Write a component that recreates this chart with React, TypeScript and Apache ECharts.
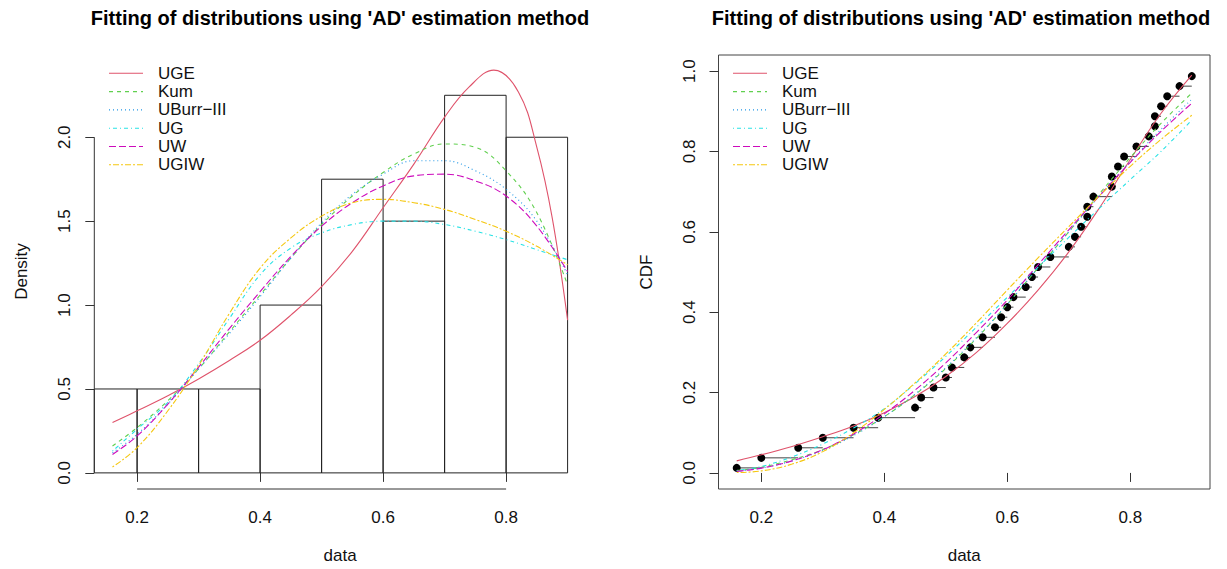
import React, { useEffect, useRef } from "react";
import * as echarts from "echarts";

// ---------- data ----------
const TITLE = "Fitting of distributions using 'AD' estimation method";
const NAMES = ["UGE", "Kum", "UBurr\u2212III", "UG", "UW", "UGIW"];

const X_TICKS = [0.2, 0.4, 0.6, 0.8];
const DENS_TICKS = [0, 0.5, 1.0, 1.5, 2.0];
const CDF_TICKS = [0, 0.2, 0.4, 0.6, 0.8, 1.0];

// histogram (density scale)
const BREAKS = [0.1, 0.2, 0.3, 0.4, 0.5, 0.6, 0.7, 0.8, 0.9];
const HIST_DENSITY = [0.5, 0.5, 0.5, 1.0, 1.75, 1.5, 2.25, 2.0];

// x grid for the fitted curves
const DX = [0.16, 0.2, 0.25, 0.3, 0.35, 0.4, 0.45, 0.5, 0.55, 0.6, 0.65, 0.7, 0.75, 0.8, 0.85, 0.9];
const UGE_DX = [0.16, 0.2, 0.25, 0.3, 0.35, 0.4, 0.45, 0.5, 0.55, 0.6, 0.65, 0.7, 0.74, 0.78, 0.82, 0.85, 0.875, 0.9];

// fitted densities
const UGE_DENS = [0.30, 0.37, 0.46, 0.56, 0.67, 0.79, 0.94, 1.11, 1.32, 1.58, 1.84, 2.12, 2.30, 2.40, 2.27, 1.94, 1.52, 0.91];
const KUM_DENS = [0.16, 0.27, 0.43, 0.62, 0.84, 1.06, 1.28, 1.48, 1.65, 1.79, 1.90, 1.96, 1.94, 1.80, 1.55, 1.12];
const UBURR_DENS = [0.12, 0.23, 0.41, 0.62, 0.83, 1.05, 1.28, 1.49, 1.66, 1.78, 1.86, 1.86, 1.80, 1.69, 1.50, 1.18];
const UG_DENS = [0.13, 0.26, 0.42, 0.65, 0.92, 1.18, 1.34, 1.43, 1.48, 1.50, 1.50, 1.48, 1.44, 1.39, 1.33, 1.27];
const UW_DENS = [0.11, 0.22, 0.41, 0.63, 0.86, 1.08, 1.29, 1.47, 1.61, 1.71, 1.77, 1.78, 1.74, 1.65, 1.47, 1.20];
const UGIW_DENS = [0.035, 0.15, 0.37, 0.64, 0.95, 1.22, 1.40, 1.53, 1.61, 1.63, 1.61, 1.57, 1.51, 1.44, 1.35, 1.24];

// fitted CDFs
const UGE_CDF = [0.03, 0.045, 0.066, 0.09, 0.117, 0.15, 0.19, 0.24, 0.3, 0.372, 0.455, 0.55, 0.66, 0.78, 0.895, 0.99];
const KUM_CDF = [0.006, 0.014, 0.033, 0.058, 0.095, 0.14, 0.195, 0.26, 0.335, 0.42, 0.51, 0.60, 0.695, 0.785, 0.87, 0.945];
const UBURR_CDF = [0.004, 0.012, 0.03, 0.056, 0.093, 0.14, 0.196, 0.262, 0.337, 0.42, 0.51, 0.60, 0.69, 0.775, 0.855, 0.93];
const UG_CDF = [0.006, 0.016, 0.04, 0.072, 0.112, 0.16, 0.222, 0.29, 0.363, 0.437, 0.512, 0.586, 0.659, 0.73, 0.80, 0.878];
const UW_CDF = [0.004, 0.012, 0.03, 0.058, 0.097, 0.147, 0.206, 0.274, 0.35, 0.43, 0.518, 0.605, 0.69, 0.773, 0.85, 0.92];
const UGIW_CDF = [0.001, 0.005, 0.022, 0.053, 0.10, 0.158, 0.224, 0.296, 0.374, 0.455, 0.535, 0.613, 0.69, 0.763, 0.83, 0.89];

// sorted observations (empirical CDF)
const ECDF_X = [
  0.16, 0.20, 0.26, 0.30, 0.35, 0.39, 0.45, 0.46, 0.48, 0.50,
  0.51, 0.53, 0.54, 0.56, 0.58, 0.59, 0.60, 0.61, 0.63, 0.64,
  0.65, 0.67, 0.70, 0.71, 0.72, 0.73, 0.73, 0.74, 0.77, 0.77,
  0.78, 0.79, 0.81, 0.83, 0.84, 0.84, 0.85, 0.86, 0.88, 0.90,
];

// ---------- styling ----------
const COLORS = ["#DF536B", "#61D04F", "#2297E6", "#28E2E5", "#CD0BBC", "#F5C710"];
const DASHES: any[] = ["solid", [4, 4], [1, 3], [1, 3, 4, 3], [7, 3], [2, 2, 6, 2]];
const FONT = "'Liberation Sans', Arial, Helvetica, sans-serif";
const XMIN = 0.1304;
const XMAX = 0.9296;
const DMIN = -0.096;
const DMAX = 2.496;
const CMIN = -0.04;
const CMAX = 1.04;

const DENS_SETS = [
  { x: UGE_DX, y: UGE_DENS },
  { x: DX, y: KUM_DENS },
  { x: DX, y: UBURR_DENS },
  { x: DX, y: UG_DENS },
  { x: DX, y: UW_DENS },
  { x: DX, y: UGIW_DENS },
];
const CDF_SETS = [UGE_CDF, KUM_CDF, UBURR_CDF, UG_CDF, UW_CDF, UGIW_CDF];

function buildOption(): any {
  const n = ECDF_X.length;
  const ecdfP = ECDF_X.map((_, i) => (i + 0.5) / n);
  const ecdfPts = ECDF_X.map((x, i) => [x, ecdfP[i]]);
  const ecdfSegs = ECDF_X.slice(0, -1).map((x, i) => [x, ECDF_X[i + 1], ecdfP[i]]);
  const histData = HIST_DENSITY.map((d, i) => [BREAKS[i], BREAKS[i + 1], d]);

  const textStyle = { fontSize: 17, fontFamily: FONT, color: "#111" };

  const xAxisCfg = (gi: number) => ({
    gridIndex: gi,
    type: "value",
    min: XMIN,
    max: XMAX,
    axisLine: { show: false },
    splitLine: { show: false },
    axisTick: { show: true, customValues: X_TICKS, length: 9, lineStyle: { color: "#333" } },
    axisLabel: { customValues: X_TICKS, formatter: (v: number) => v.toFixed(1), margin: 20, ...textStyle },
    name: "data",
    nameLocation: "middle",
    nameGap: 58,
    nameTextStyle: textStyle,
  });

  const yAxisCfg = (gi: number, min: number, max: number, ticks: number[], name: string) => ({
    gridIndex: gi,
    type: "value",
    min,
    max,
    axisLine: { show: false },
    splitLine: { show: false },
    axisTick: { show: true, customValues: ticks, length: 9, lineStyle: { color: "#333" } },
    axisLabel: { customValues: ticks, rotate: 90, formatter: (v: number) => v.toFixed(1), margin: 21, ...textStyle },
    name,
    nameLocation: "middle",
    nameRotate: 90,
    nameGap: 64,
    nameTextStyle: textStyle,
  });

  const lineSeg = (api: any, a: number[], b: number[], stroke: string) => {
    const p = api.coord(a);
    const q = api.coord(b);
    return { type: "line", shape: { x1: p[0], y1: p[1], x2: q[0], y2: q[1] }, style: { stroke, lineWidth: 1 } };
  };

  const series: any[] = [];

  // histogram
  series.push({
    type: "custom",
    xAxisIndex: 0,
    yAxisIndex: 0,
    silent: true,
    clip: false,
    data: histData,
    encode: { x: [0, 1], y: 2 },
    renderItem: (params: any, api: any) => {
      const p0 = api.coord([api.value(0), api.value(2)]);
      const p1 = api.coord([api.value(1), 0]);
      const cs = params.coordSys;
      const r = echarts.graphic.clipRectByRect(
        { x: p0[0], y: p0[1], width: p1[0] - p0[0], height: p1[1] - p0[1] },
        { x: cs.x, y: cs.y, width: cs.width, height: cs.height }
      );
      if (!r) return null;
      return { type: "rect", shape: r, style: { fill: "none", stroke: "#222", lineWidth: 1 } };
    },
  });

  // R-style axis lines for the density panel (only from first to last tick)
  series.push({
    type: "custom",
    xAxisIndex: 0,
    yAxisIndex: 0,
    silent: true,
    clip: false,
    data: [[0.5, 1]],
    renderItem: (_p: any, api: any) => ({
      type: "group",
      children: [
        lineSeg(api, [X_TICKS[0], DMIN], [X_TICKS[X_TICKS.length - 1], DMIN], "#333"),
        lineSeg(api, [XMIN, DENS_TICKS[0]], [XMIN, DENS_TICKS[DENS_TICKS.length - 1]], "#333"),
      ],
    }),
  });

  // density curves
  DENS_SETS.forEach((s, k) => {
    series.push({
      type: "line",
      name: NAMES[k],
      xAxisIndex: 0,
      yAxisIndex: 0,
      data: s.x.map((x, i) => [x, s.y[i]]),
      smooth: 0.4,
      symbol: "none",
      silent: true,
      lineStyle: { color: COLORS[k], width: 1.1, type: DASHES[k] },
      z: 3,
    });
  });

  // ECDF horizontal steps
  series.push({
    type: "custom",
    xAxisIndex: 1,
    yAxisIndex: 1,
    silent: true,
    clip: false,
    data: ecdfSegs,
    encode: { x: [0, 1], y: 2 },
    renderItem: (_p: any, api: any) =>
      lineSeg(api, [api.value(0), api.value(2)], [api.value(1), api.value(2)], "#444"),
  });

  // ECDF points
  series.push({
    type: "scatter",
    xAxisIndex: 1,
    yAxisIndex: 1,
    data: ecdfPts,
    symbol: "circle",
    symbolSize: 8,
    itemStyle: { color: "#000", opacity: 1 },
    silent: true,
    z: 2,
  });

  // CDF curves
  CDF_SETS.forEach((ys, k) => {
    series.push({
      type: "line",
      name: NAMES[k],
      xAxisIndex: 1,
      yAxisIndex: 1,
      data: DX.map((x, i) => [x, ys[i]]),
      smooth: 0.4,
      symbol: "none",
      silent: true,
      lineStyle: { color: COLORS[k], width: 1.1, type: DASHES[k] },
      z: 3,
    });
  });

  // legends + titles as graphic elements
  const legendGroup = (x0: number, y0: number) =>
    NAMES.flatMap((nm, k) => {
      const y = y0 + k * 18.3;
      const dash = DASHES[k] === "solid" ? null : DASHES[k];
      return [
        {
          type: "line",
          shape: { x1: x0, y1: y, x2: x0 + 34, y2: y },
          style: { stroke: COLORS[k], lineWidth: 1.1, lineDash: dash },
          silent: true,
        },
        {
          type: "text",
          x: x0 + 49,
          y,
          style: { text: nm, font: `17px ${FONT}`, fill: "#111", align: "left", verticalAlign: "middle" },
          silent: true,
        },
      ];
    });

  const titleEl = (x: number) => ({
    type: "text",
    x,
    y: 18,
    style: { text: TITLE, font: `bold 20px ${FONT}`, fill: "#000", align: "center", verticalAlign: "middle" },
    silent: true,
  });

  return {
    animation: false,
    backgroundColor: "#fff",
    grid: [
      { left: 94.3, top: 54, width: 491.5, height: 443, show: false },
      { left: 718.5, top: 55, width: 491.5, height: 442, show: true, borderColor: "#444", borderWidth: 1, backgroundColor: "transparent" },
    ],
    xAxis: [xAxisCfg(0), xAxisCfg(1)],
    yAxis: [
      yAxisCfg(0, DMIN, DMAX, DENS_TICKS, "Density"),
      yAxisCfg(1, CMIN, CMAX, CDF_TICKS, "CDF"),
    ],
    series,
    graphic: [
      titleEl(340),
      titleEl(961),
      ...legendGroup(109, 73.3),
      ...legendGroup(733, 73.3),
    ],
  };
}

export default function App() {
  const ref = useRef<HTMLDivElement>(null);
  useEffect(() => {
    if (!ref.current) return;
    const chart = echarts.init(ref.current, null, { renderer: "svg", width: 1227, height: 569 });
    chart.setOption(buildOption());
    return () => chart.dispose();
  }, []);
  return (
    <div
      ref={ref}
      style={{ position: "fixed", left: 0, top: 0, width: 1227, height: 569, background: "#fff" }}
    />
  );
}
